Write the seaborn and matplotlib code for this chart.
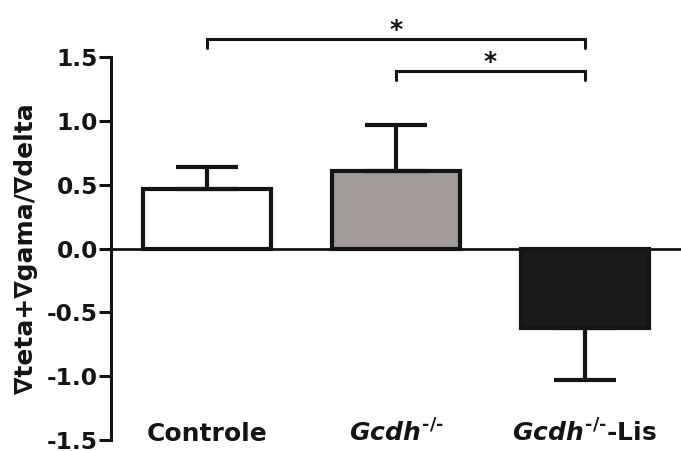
import matplotlib
matplotlib.use("Agg")
import matplotlib.pyplot as plt
import seaborn as sns
import pandas as pd

# ---- data ----
categories = ["Controle", "Gcdh-/-", "Gcdh-/--Lis"]
tick_labels = ["Controle", r"$Gcdh^{\text{-/-}}$", r"$Gcdh^{\text{-/-}}$-Lis"]
means = [0.465, 0.61, -0.62]
sem = [0.17, 0.355, 0.41]
bar_colors = ["#ffffff", "#a39a98", "#1c1a17"]
# significance brackets: (x_start, x_end, height)
brackets = [(0, 2, 1.64), (1, 2, 1.39)]
y_ticks = [-1.5, -1.0, -0.5, 0.0, 0.5, 1.0, 1.5]
y_label = "∇teta+∇gama/∇delta"

sns.set_theme(style="white")
plt.rcParams["font.family"] = ["DejaVu Sans"]
plt.rcParams["font.weight"] = "bold"
plt.rcParams["mathtext.fontset"] = "custom"
plt.rcParams["mathtext.it"] = "DejaVu Sans:bold:italic"
plt.rcParams["mathtext.rm"] = "DejaVu Sans:bold"
plt.rcParams["mathtext.default"] = "it"

ink = "#141414"
fig = plt.figure(figsize=(6.81, 4.51), dpi=100)
ax = fig.add_axes([0.163, 0.0244, 0.837, 0.849])

df = pd.DataFrame({"group": categories, "value": means})
sns.barplot(data=df, x="group", y="value", hue="group", palette=bar_colors,
            order=categories, hue_order=categories, legend=False,
            width=0.68, edgecolor=ink, linewidth=3.0, errorbar=None, ax=ax)

for i, (m, e) in enumerate(zip(means, sem)):
    yerr = [[0], [e]] if m >= 0 else [[e], [0]]
    ax.errorbar(i, m, yerr=yerr, fmt="none", ecolor=ink, elinewidth=3.0,
                capsize=22, capthick=3.0, zorder=1)

ax.axhline(0, color=ink, lw=2.0, zorder=3)

ax.set_xlim(-0.51, 2.51)
ax.set_ylim(-1.5, 1.5)
ax.set_yticks(y_ticks)
ax.set_yticklabels([f"{t:.1f}" for t in y_ticks])
ax.tick_params(axis="y", direction="out", length=8.5, width=2.2, pad=1,
               labelsize=16.8, color=ink, labelcolor=ink, left=True)
ax.set_xticks([])
ax.set_xlabel("")
ax.set_ylabel(y_label, fontsize=18, fontweight="bold", color=ink, labelpad=6)

for s in ["top", "right", "bottom"]:
    ax.spines[s].set_visible(False)
ax.spines["left"].set_linewidth(2.2)
ax.spines["left"].set_color(ink)

for i, lab in enumerate(tick_labels):
    ax.text(i, -1.51, lab, ha="center", va="baseline", fontsize=18,
            fontweight="bold", color=ink)

for x0, x1, h in brackets:
    ax.plot([x0, x0, x1, x1], [h - 0.07, h, h, h - 0.07], color=ink, lw=2.2,
            clip_on=False, solid_joinstyle="miter")
    ax.text((x0 + x1) / 2, h - 0.025, "*", ha="center", va="bottom",
            fontsize=18, fontweight="bold", color=ink, clip_on=False)

fig.savefig("out.png", dpi=100, facecolor="white")
